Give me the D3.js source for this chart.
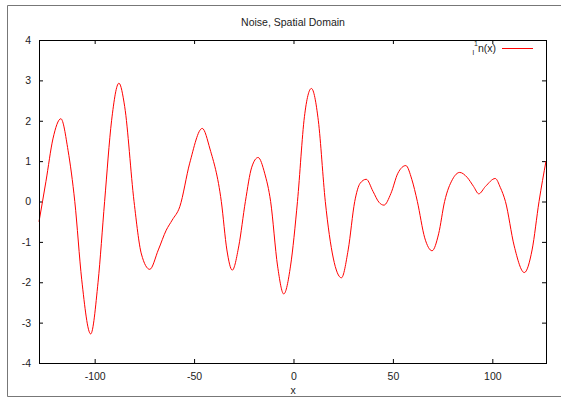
<!DOCTYPE html>
<html>
<head>
<meta charset="utf-8">
<script src="https://cdn.jsdelivr.net/npm/d3@7"></script>
<style>
  body { margin: 0; background: #fff; }
  svg text { font-family: "Liberation Sans", Arial, sans-serif; font-size: 10.5px; fill: #222; }
</style>
</head>
<body>
<div id="chart"></div>
<script>
// chart size
var svgWidth = 561;
var svgHeight = 398;

var margin = { top: 40, right: 15, bottom: 35, left: 39 };
var chartWidth = 546 - margin.left;
var chartHeight = 363 - margin.top;

// data
var xValues = [-128, -124.5, -121, -117, -113.4, -110, -106.5, -102, -98.3, -95, -91.5, -87.8, -84.9, -80.2,
  -76.5, -72.3, -68, -64, -61, -57.2, -52.2, -45.9, -42, -36.3, -33.5, -30.8, -27.5, -24.2, -21, -17.8,
  -14.5, -11.5, -8, -4.9, -1.5, 2, 5.5, 9, 12.5, 16, 20, 24.1, 27.5, 30.8, 33.5, 36.6, 40, 43, 45.5,
  49, 52.5, 56.5, 59.5, 62.3, 66, 69.7, 73, 76, 80, 83.6, 87.3, 90.6, 93.2, 96.5, 101.5, 104, 106.6,
  111, 116.1, 120, 123.5, 127];
var yValues = [-0.5, 0.5, 1.55, 2.05, 1.27, 0.0, -1.94, -3.28, -2.0, 0.0, 2.0, 2.93, 2.35, 0.0,
  -1.3, -1.68, -1.2, -0.71, -0.46, -0.13, 0.95, 1.81, 1.3, 0.0, -1.2, -1.7, -1.1, 0.0, 0.85, 1.09,
  0.7, 0.0, -1.6, -2.29, -1.6, 0.0, 2.1, 2.8, 2.0, 0.0, -1.4, -1.89, -1.2, 0.0, 0.45, 0.55, 0.25, -0.02, -0.09,
  0.2, 0.7, 0.89, 0.55, 0.0, -0.9, -1.22, -0.8, 0.0, 0.55, 0.72, 0.6, 0.37, 0.19, 0.37, 0.57, 0.35, 0.0,
  -1.1, -1.76, -1.2, 0.0, 1.0];
var xTicks = [-100, -50, 0, 50, 100];
var yTicks = [-4, -3, -2, -1, 0, 1, 2, 3, 4];

var points = xValues.map(function(x, i) { return { x: x, y: yValues[i] }; });

var svg = d3.select("#chart")
  .append("svg")
  .attr("width", svgWidth)
  .attr("height", svgHeight);

// outer frame (cut off at the right)
svg.append("path")
  .attr("d", "M" + (svgWidth + 5) + ",5.5H7.5V396.5H" + (svgWidth + 5))
  .attr("fill", "none")
  .attr("stroke", "#777")
  .attr("stroke-width", 1);

svg.append("text")
  .attr("x", 293)
  .attr("y", 26)
  .attr("text-anchor", "middle")
  .text("Noise, Spatial Domain");

var chartGroup = svg.append("g")
  .attr("transform", `translate(${margin.left}, ${margin.top})`);

var xScale = d3.scaleLinear().domain([-128, 127]).range([0, chartWidth]);
var yScale = d3.scaleLinear().domain([-4, 4]).range([chartHeight, 0]);

// plain hyphen minus like gnuplot
var fmt = d => String(d);

// axes, ticks pointing inward and mirrored
function styleAxis(g) {
  g.select(".domain").remove();
  g.selectAll(".tick line").attr("stroke", "#000");
  g.selectAll(".tick text").attr("fill", "#222").style("font-size", "10.5px")
    .style("font-family", "Liberation Sans, Arial, sans-serif");
}

chartGroup.append("g")
  .attr("transform", `translate(0, ${chartHeight})`)
  .call(d3.axisBottom(xScale).tickValues(xTicks).tickFormat(fmt).tickSizeInner(-4).tickSizeOuter(0).tickPadding(10))
  .call(styleAxis);

chartGroup.append("g")
  .call(d3.axisTop(xScale).tickValues(xTicks).tickSizeInner(-4).tickSizeOuter(0).tickFormat(""))
  .call(styleAxis);

chartGroup.append("g")
  .call(d3.axisLeft(yScale).tickValues(yTicks).tickFormat(fmt).tickSizeInner(-4).tickSizeOuter(0).tickPadding(8))
  .call(styleAxis);

chartGroup.append("g")
  .attr("transform", `translate(${chartWidth}, 0)`)
  .call(d3.axisRight(yScale).tickValues(yTicks).tickSizeInner(-4).tickSizeOuter(0).tickFormat(""))
  .call(styleAxis);

// the curve
var line = d3.line()
  .x(d => xScale(d.x))
  .y(d => yScale(d.y))
  .curve(d3.curveMonotoneX);

chartGroup.append("path")
  .datum(points)
  .attr("d", line)
  .attr("fill", "none")
  .attr("stroke", "#f00")
  .attr("stroke-width", 1);

chartGroup.append("rect")
  .attr("x", 0.5)
  .attr("y", 0.5)
  .attr("width", chartWidth)
  .attr("height", chartHeight)
  .attr("fill", "none")
  .attr("stroke", "#000")
  .attr("stroke-width", 1);

// legend
var legText = svg.append("text")
  .attr("x", 496)
  .attr("y", 52)
  .attr("text-anchor", "end");
legText.append("tspan").attr("dy", 3).style("font-size", "7px").text("l");
legText.append("tspan").attr("dy", -9).style("font-size", "7px").text("1");
legText.append("tspan").attr("dy", 6).text("n(x)");

svg.append("line")
  .attr("x1", 502)
  .attr("x2", 533)
  .attr("y1", 48.5)
  .attr("y2", 48.5)
  .attr("stroke", "#f00")
  .attr("stroke-width", 1);

// axis label
svg.append("text")
  .attr("x", 293)
  .attr("y", 394)
  .attr("text-anchor", "middle")
  .text("x");
</script>
</body>
</html>
